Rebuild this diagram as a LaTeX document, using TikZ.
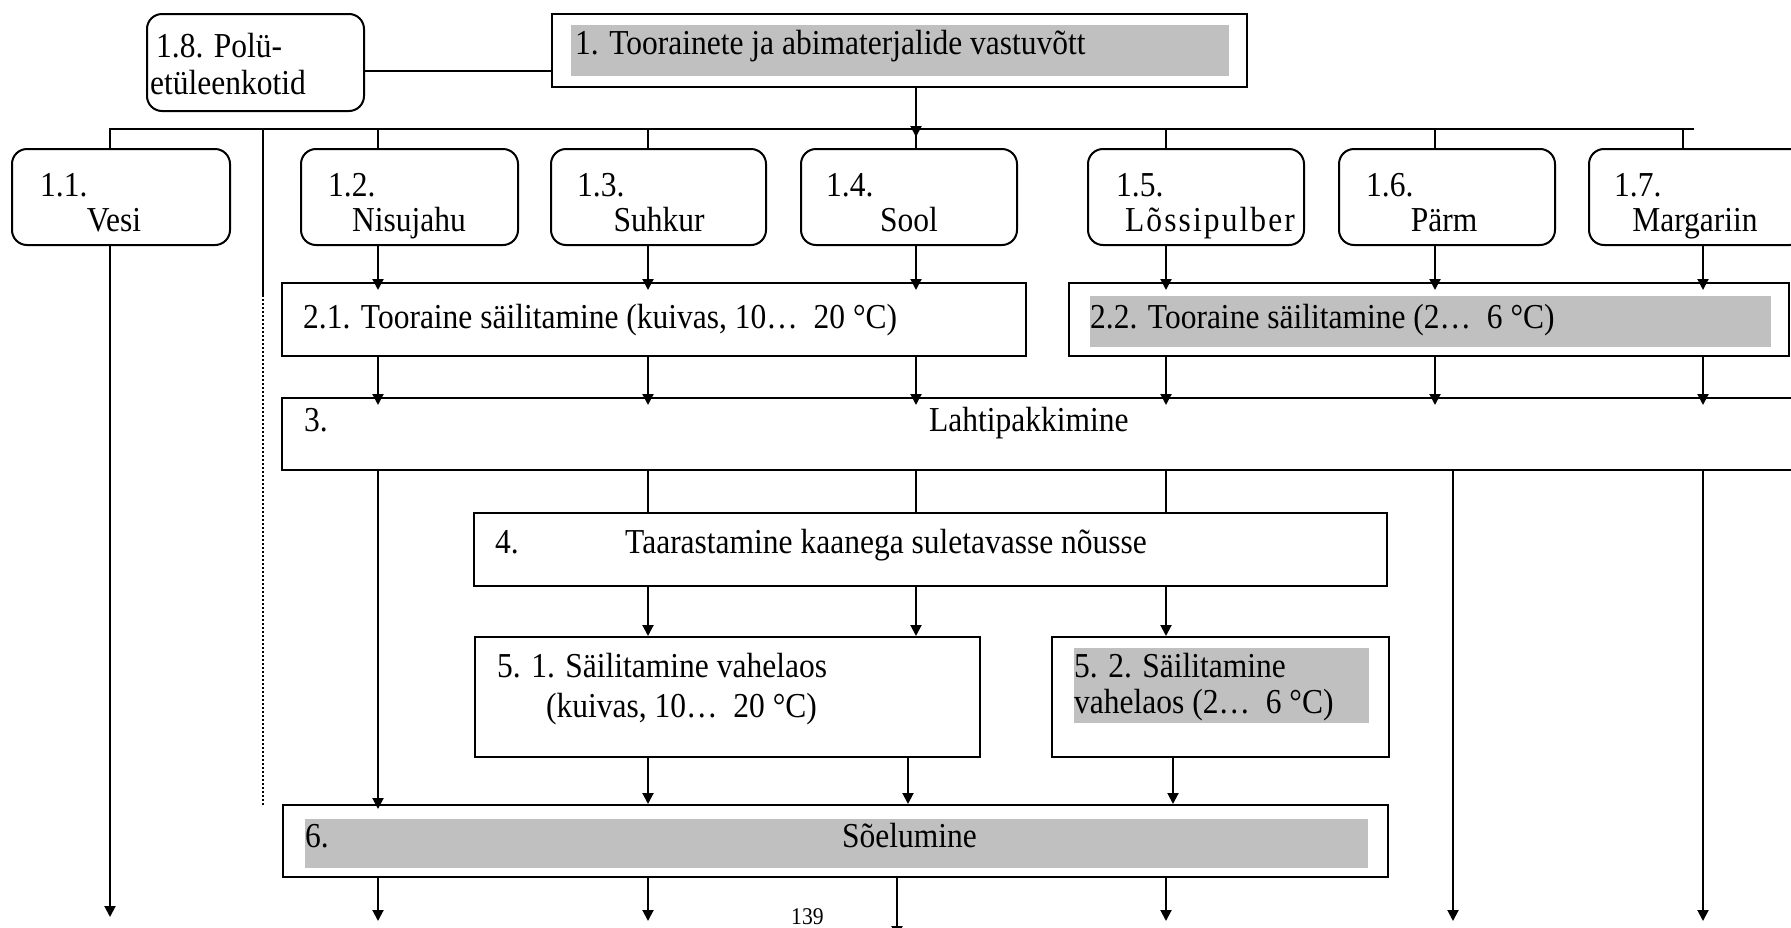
\documentclass[tikz,border=0pt]{standalone}
\usepackage{fontspec}
\setmainfont{Liberation Serif}[FakeStretch=0.9]
\usetikzlibrary{arrows.meta}
\definecolor{greyfill}{RGB}{192,192,192}
\tikzset{
  ln/.style={line width=2pt},
  arr/.style={ln, -{Triangle[width=11pt,length=11pt]}},
  into/.style={shorten >=-8pt},
  dotln/.style={line width=1.5pt, dash pattern=on 2pt off 2pt},
  rbox/.style={draw, line width=2pt, rounded corners=15pt, inner sep=0pt},
  sbox/.style={draw, line width=2pt, inner sep=0pt},
  txt/.style={anchor=base west, inner sep=0pt, font=\fontsize{35}{40}\selectfont},
  stuff/.style={anchor=base, inner sep=0pt, font=\fontsize{35}{40}\selectfont},
}
\begin{document}
\begin{tikzpicture}[x=1pt,y=-1pt]
\useasboundingbox (0,0) rectangle (1791,927);

% columns and rows
\coordinate (x0) at (263,0);
\coordinate (x1) at (110,0);
\coordinate (x2) at (378,0);
\coordinate (x3) at (648,0);
\coordinate (x4) at (916,0);
\coordinate (x4c) at (908,0);
\coordinate (x4d) at (897,0);
\coordinate (x5) at (1166,0);
\coordinate (x5c) at (1173,0);
\coordinate (x6) at (1435,0);
\coordinate (x6b) at (1453,0);
\coordinate (x7) at (1683,0);
\coordinate (x7b) at (1703,0);
\coordinate (ly) at (0,71);
\coordinate (bus) at (0,129);
\coordinate (busarr) at (0,137);
\coordinate (busend) at (1694,129);
\coordinate (dotA) at (263,295);
\coordinate (dotB) at (263,806);
\coordinate (vend) at (0,917);
\coordinate (bot) at (0,921);
\coordinate (cut) at (0,937);

% boxes
\node[rbox, minimum width=217pt, minimum height=97pt] (b18) at (255.5,62.5) {};
\node[sbox, minimum width=695pt, minimum height=73pt] (b1) at (899.5,50.5) {};
\node[rbox, minimum width=218pt, minimum height=96pt] (v11) at (121,197) {};
\node[rbox, minimum width=217pt, minimum height=96pt] (v12) at (409.5,197) {};
\node[rbox, minimum width=215pt, minimum height=96pt] (v13) at (658.5,197) {};
\node[rbox, minimum width=216pt, minimum height=96pt] (v14) at (909,197) {};
\node[rbox, minimum width=216pt, minimum height=96pt] (v15) at (1196,197) {};
\node[rbox, minimum width=216pt, minimum height=96pt] (v16) at (1447,197) {};
\node[rbox, minimum width=216pt, minimum height=96pt] (v17) at (1697,197) {};
\node[sbox, minimum width=744pt, minimum height=73pt] (b21) at (654,319.5) {};
\node[sbox, minimum width=720pt, minimum height=73pt] (b22) at (1429,319.5) {};
\node[sbox, minimum width=1523pt, minimum height=72pt] (b3) at (1043.5,434) {};
\node[sbox, minimum width=913pt, minimum height=73pt] (b4) at (930.5,549.5) {};
\node[sbox, minimum width=505pt, minimum height=120pt] (b51) at (727.5,697) {};
\node[sbox, minimum width=337pt, minimum height=120pt] (b52) at (1220.5,697) {};
\node[sbox, minimum width=1105pt, minimum height=72pt] (b6) at (835.5,841) {};

% grey backgrounds
\fill[greyfill] (571,25) rectangle (1229,76);
\fill[greyfill] (1090,296) rectangle (1771,347);
\fill[greyfill] (1074,648) rectangle (1369,723);
\fill[greyfill] (305,819) rectangle (1368,868);

% texts
\node[txt] (t18a) at (156,57) {1.8. Polü-};
\node[txt] (t18b) at (150,94) {etüleenkotid};
\node[txt] (t1) at (575,54) {1. Toorainete ja abimaterjalide vastuvõtt};
\node[txt] (n11) at (40,196) {1.1.};
\node[stuff] (l11) at (114,231) {Vesi};
\node[txt] (n12) at (328,196) {1.2.};
\node[stuff] (l12) at (409,231) {Nisujahu};
\node[txt] (n13) at (577,196) {1.3.};
\node[stuff] (l13) at (659,231) {Suhkur};
\node[txt] (n14) at (826,196) {1.4.};
\node[stuff] (l14) at (909,231) {Sool};
\node[txt] (n15) at (1116,196) {1.5.};
\node[stuff] (l15) at (1210,231) {\addfontfeature{LetterSpace=6}Lõssipulber};
\node[txt] (n16) at (1366,196) {1.6.};
\node[stuff] (l16) at (1444,231) {Pärm};
\node[txt] (n17) at (1614,196) {1.7.};
\node[stuff] (l17) at (1695,231) {Margariin};
\node[txt] (t21) at (303,328) {2.1. Tooraine säilitamine (kuivas, 10…\ \ 20 °C)};
\node[txt] (t22) at (1090,328) {2.2. Tooraine säilitamine (2…\ \ 6 °C)};
\node[txt] (t3a) at (304,431) {3.};
\node[txt] (t3b) at (929,431) {Lahtipakkimine};
\node[txt] (t4a) at (495,553) {4.};
\node[txt] (t4b) at (625,553) {Taarastamine kaanega suletavasse nõusse};
\node[txt] (t51a) at (497,677) {5. 1. Säilitamine vahelaos};
\node[txt] (t51b) at (546,717) {(kuivas, 10…\ \ 20 °C)};
\node[txt] (t52a) at (1074,677) {5. 2. Säilitamine};
\node[txt] (t52b) at (1074,713) {vahelaos (2…\ \ 6 °C)};
\node[txt] (t6a) at (305,847) {6.};
\node[txt] (t6b) at (842,847) {Sõelumine};
\node[anchor=base west, inner sep=0pt, font=\fontsize{24}{28}\selectfont] (pg) at (791,924) {139};

% bus from 1.
\draw[ln] (b18.east |- ly) -- (b1.west |- ly);
\draw[arr] (b1.south -| x4) -- (x4 |- busarr);
\draw[ln] (v11.north -| x1) -- (x1 |- bus) -- (busend);
\draw[ln] (x2 |- bus) -- (v12.north -| x2);
\draw[ln] (x3 |- bus) -- (v13.north -| x3);
\draw[ln] (x4 |- bus) -- (v14.north -| x4);
\draw[ln] (x5 |- bus) -- (v15.north -| x5);
\draw[ln] (x6 |- bus) -- (v16.north -| x6);
\draw[ln] (x7 |- bus) -- (v17.north -| x7);
\draw[ln] (x0 |- bus) -- (dotA);
\draw[dotln] (dotA) -- (dotB);

% raw materials to storage
\draw[arr] (v11.south -| x1) -- (x1 |- vend);
\draw[arr,into] (v12.south -| x2) -- (b21.north -| x2);
\draw[arr,into] (v13.south -| x3) -- (b21.north -| x3);
\draw[arr,into] (v14.south -| x4) -- (b21.north -| x4);
\draw[arr,into] (v15.south -| x5) -- (b22.north -| x5);
\draw[arr,into] (v16.south -| x6) -- (b22.north -| x6);
\draw[arr,into] (v17.south -| x7b) -- (b22.north -| x7b);

% storage to unpacking
\draw[arr,into] (b21.south -| x2) -- (b3.north -| x2);
\draw[arr,into] (b21.south -| x3) -- (b3.north -| x3);
\draw[arr,into] (b21.south -| x4) -- (b3.north -| x4);
\draw[arr,into] (b22.south -| x5) -- (b3.north -| x5);
\draw[arr,into] (b22.south -| x6) -- (b3.north -| x6);
\draw[arr,into] (b22.south -| x7b) -- (b3.north -| x7b);

% unpacking onwards
\draw[arr,shorten >=-5pt] (b3.south -| x2) -- (b6.north -| x2);
\draw[ln] (b3.south -| x3) -- (b4.north -| x3);
\draw[ln] (b3.south -| x4) -- (b4.north -| x4);
\draw[ln] (b3.south -| x5) -- (b4.north -| x5);
\draw[arr] (b3.south -| x6b) -- (x6b |- bot);
\draw[arr] (b3.south -| x7b) -- (x7b |- bot);
\draw[arr] (b4.south -| x3) -- (b51.north -| x3);
\draw[arr] (b4.south -| x4) -- (b51.north -| x4);
\draw[arr] (b4.south -| x5) -- (b52.north -| x5);
\draw[arr] (b51.south -| x3) -- (b6.north -| x3);
\draw[arr] (b51.south -| x4c) -- (b6.north -| x4c);
\draw[arr] (b52.south -| x5c) -- (b6.north -| x5c);
\draw[arr] (b6.south -| x2) -- (x2 |- bot);
\draw[arr] (b6.south -| x3) -- (x3 |- bot);
\draw[arr] (b6.south -| x4d) -- (x4d |- cut);
\draw[arr] (b6.south -| x5) -- (x5 |- bot);
\end{tikzpicture}
\end{document}
